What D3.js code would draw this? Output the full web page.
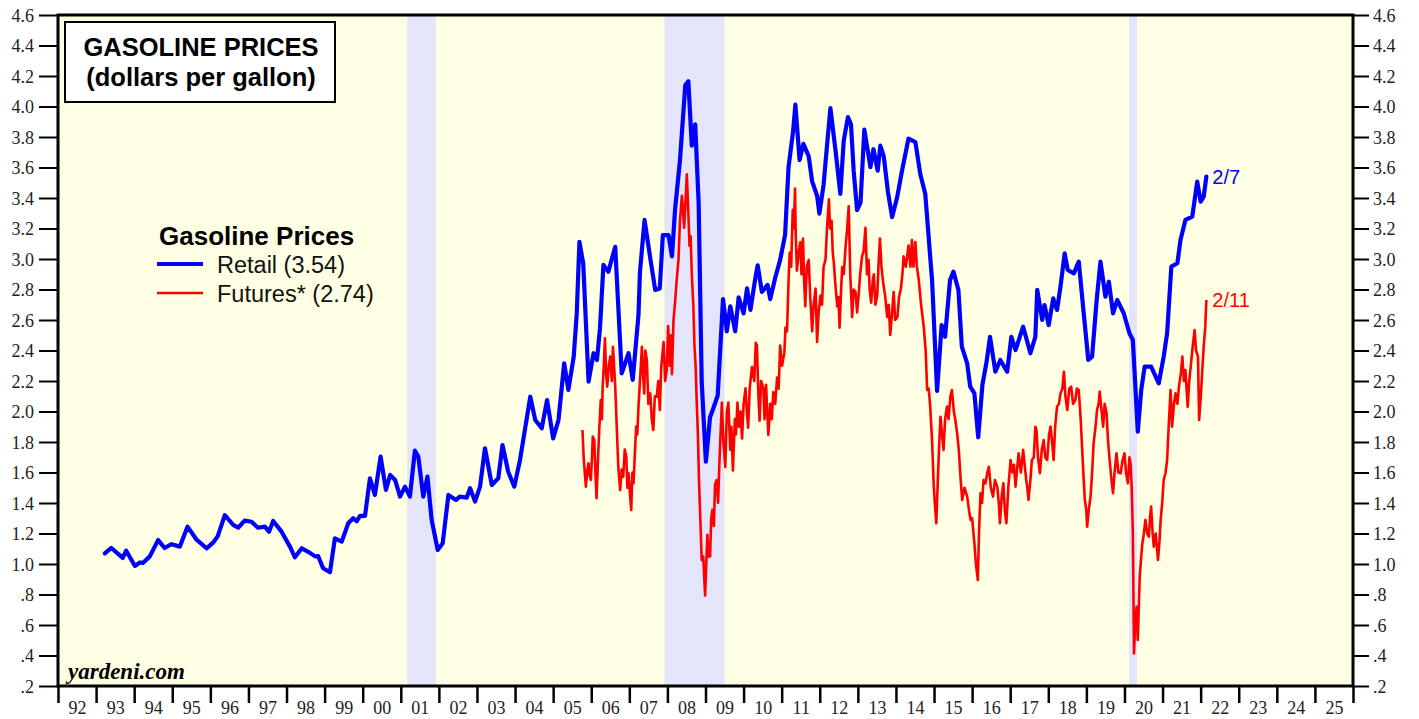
<!DOCTYPE html>
<html>
<head>
<meta charset="utf-8">
<script src="https://cdn.jsdelivr.net/npm/d3@7"></script>
<style>
  body { margin: 0; background: #fff; }
  svg { display: block; }
</style>
</head>
<body>
<div id="chart"></div>
<script>
// retail gasoline, $/gal (decimal year, value)
var retail = [
  [1993.23,1.07],[1993.40,1.105],[1993.70,1.04],[1993.79,1.087],[1994.02,0.987],[1994.15,1.01],[1994.23,1.007],
  [1994.41,1.05],[1994.63,1.157],[1994.80,1.105],[1994.98,1.13],[1995.20,1.114],[1995.40,1.245],[1995.63,1.162],
  [1995.90,1.103],[1996.07,1.14],[1996.19,1.18],[1996.38,1.32],[1996.60,1.256],[1996.73,1.238],[1996.90,1.284],
  [1997.08,1.277],[1997.25,1.238],[1997.43,1.245],[1997.54,1.212],[1997.65,1.282],[1997.87,1.212],[1998.09,1.114],
  [1998.22,1.044],[1998.40,1.103],[1998.57,1.08],[1998.75,1.05],[1998.83,1.052],[1998.96,0.972],[1999.14,0.946],
  [1999.27,1.168],[1999.45,1.147],[1999.62,1.267],[1999.75,1.30],[1999.84,1.28],[1999.93,1.315],[2000.06,1.315],
  [2000.19,1.562],[2000.32,1.453],[2000.47,1.704],[2000.61,1.485],[2000.72,1.584],[2000.85,1.551],[2000.98,1.442],
  [2001.11,1.507],[2001.24,1.442],[2001.37,1.743],[2001.46,1.704],[2001.59,1.442],[2001.70,1.573],[2001.81,1.289],
  [2001.97,1.092],[2002.10,1.136],[2002.25,1.453],[2002.45,1.42],[2002.55,1.442],[2002.73,1.435],[2002.82,1.497],
  [2002.95,1.41],[2003.08,1.507],[2003.21,1.759],[2003.39,1.518],[2003.56,1.562],[2003.67,1.78],[2003.82,1.605],
  [2003.98,1.507],[2004.13,1.682],[2004.40,2.097],[2004.53,1.944],[2004.70,1.89],[2004.84,2.075],[2005.00,1.824],
  [2005.14,1.944],[2005.29,2.316],[2005.40,2.141],[2005.54,2.36],[2005.62,2.644],[2005.69,3.113],[2005.79,2.97],
  [2005.93,2.196],[2006.06,2.382],[2006.15,2.338],[2006.23,2.546],[2006.32,2.961],[2006.45,2.917],[2006.63,3.08],
  [2006.80,2.25],[2006.98,2.382],[2007.09,2.207],[2007.24,2.633],[2007.28,2.917],[2007.40,3.256],[2007.55,3.005],
  [2007.68,2.797],[2007.80,2.807],[2007.88,3.157],[2008.03,3.157],[2008.12,3.017],[2008.20,3.321],[2008.33,3.649],
  [2008.47,4.141],[2008.55,4.165],[2008.64,3.743],[2008.73,3.883],[2008.82,3.369],[2008.90,2.198],[2009.01,1.671],
  [2009.12,1.964],[2009.19,2.01],[2009.32,2.104],[2009.46,2.737],[2009.56,2.526],[2009.65,2.69],[2009.78,2.526],
  [2009.87,2.748],[2010.00,2.643],[2010.09,2.807],[2010.18,2.666],[2010.31,2.877],[2010.37,2.959],[2010.48,2.784],
  [2010.63,2.83],[2010.70,2.737],[2010.83,2.877],[2010.96,2.994],[2011.09,3.158],[2011.18,3.602],[2011.30,3.837],
  [2011.36,4.012],[2011.47,3.649],[2011.57,3.755],[2011.71,3.673],[2011.80,3.509],[2011.93,3.415],[2011.99,3.298],
  [2012.10,3.485],[2012.19,3.743],[2012.28,3.989],[2012.41,3.72],[2012.54,3.427],[2012.63,3.778],[2012.74,3.93],
  [2012.82,3.883],[2012.89,3.579],[2012.98,3.321],[2013.07,3.369],[2013.17,3.849],[2013.33,3.602],[2013.41,3.72],
  [2013.52,3.579],[2013.59,3.743],[2013.68,3.673],[2013.79,3.439],[2013.90,3.275],[2014.03,3.403],[2014.16,3.579],
  [2014.33,3.79],[2014.51,3.767],[2014.64,3.556],[2014.77,3.427],[2014.95,2.854],[2015.08,2.135],[2015.20,2.567],
  [2015.29,2.49],[2015.42,2.862],[2015.51,2.917],[2015.64,2.797],[2015.73,2.425],[2015.87,2.316],[2015.95,2.163],
  [2016.06,2.119],[2016.16,1.831],[2016.27,2.174],[2016.38,2.327],[2016.47,2.49],[2016.61,2.261],[2016.74,2.338],
  [2016.92,2.261],[2017.03,2.49],[2017.14,2.403],[2017.34,2.556],[2017.53,2.382],[2017.66,2.49],[2017.71,2.797],
  [2017.84,2.6],[2017.90,2.698],[2018.01,2.567],[2018.13,2.742],[2018.23,2.666],[2018.32,2.819],[2018.43,3.037],
  [2018.51,2.928],[2018.67,2.906],[2018.80,2.983],[2018.93,2.644],[2019.05,2.338],[2019.15,2.36],[2019.27,2.731],
  [2019.37,2.983],[2019.50,2.753],[2019.59,2.851],[2019.70,2.644],[2019.81,2.731],[2019.98,2.644],[2020.13,2.513],
  [2020.22,2.469],[2020.35,1.868],[2020.44,2.141],[2020.53,2.294],[2020.70,2.294],[2020.90,2.185],[2021.03,2.36],
  [2021.12,2.513],[2021.23,2.95],[2021.39,2.972],[2021.47,3.125],[2021.60,3.256],[2021.78,3.278],[2021.91,3.507],
  [2022.00,3.376],[2022.08,3.409],[2022.15,3.54]
];

// gasoline futures, $/gal
var futures = [
  [2005.77,1.879],[2005.80,1.704],[2005.83,1.60],[2005.86,1.507],[2005.90,1.62],[2005.93,1.66],[2005.96,1.58],[2005.99,1.551],
  [2006.02,1.70],[2006.04,1.835],[2006.08,1.813],[2006.11,1.60],[2006.14,1.431],[2006.18,1.70],[2006.21,1.879],
  [2006.25,2.075],[2006.28,1.95],[2006.30,2.163],[2006.33,2.30],[2006.36,2.48],[2006.39,2.25],[2006.42,2.163],[2006.46,2.30],
  [2006.50,2.36],[2006.54,2.20],[2006.57,2.425],[2006.60,2.30],[2006.63,2.163],[2006.67,1.90],[2006.71,1.638],[2006.76,1.485],
  [2006.80,1.62],[2006.84,1.573],[2006.88,1.75],[2006.92,1.704],[2006.95,1.50],[2006.98,1.595],[2007.02,1.45],
  [2007.05,1.354],[2007.08,1.60],[2007.11,1.529],[2007.15,1.75],[2007.18,1.901],[2007.21,1.85],[2007.24,2.032],
  [2007.28,2.20],[2007.33,2.425],[2007.36,2.25],[2007.39,2.119],[2007.42,2.40],[2007.46,2.338],[2007.50,2.05],
  [2007.55,2.119],[2007.59,1.95],[2007.63,1.879],[2007.67,2.10],[2007.72,2.097],[2007.76,2.20],[2007.80,2.01],
  [2007.84,2.30],[2007.90,2.456],[2007.94,2.20],[2007.98,2.268],[2008.02,2.561],[2008.06,2.30],[2008.09,2.50],
  [2008.12,2.245],[2008.16,2.60],[2008.20,2.713],[2008.24,2.85],[2008.29,2.994],[2008.33,3.25],[2008.38,3.415],
  [2008.44,3.205],[2008.48,3.40],[2008.51,3.556],[2008.55,3.30],[2008.58,3.088],[2008.61,3.15],
  [2008.64,2.9],[2008.68,2.70],[2008.71,2.432],[2008.74,2.30],[2008.77,2.058],[2008.80,1.85],[2008.83,1.542],[2008.87,1.25],
  [2008.90,1.027],[2008.94,1.05],[2008.99,0.793],[2009.02,1.00],[2009.05,1.191],[2009.08,1.05],[2009.12,1.05],
  [2009.15,1.30],[2009.18,1.356],[2009.22,1.25],[2009.25,1.52],[2009.29,1.55],[2009.33,1.402],[2009.37,1.70],
  [2009.43,2.058],[2009.47,1.80],[2009.52,1.636],[2009.56,2.00],[2009.60,2.058],[2009.65,1.75],[2009.68,1.90],
  [2009.72,1.613],[2009.77,1.95],[2009.80,1.85],[2009.84,2.058],[2009.88,1.90],[2009.92,2.00],[2009.96,1.824],
  [2010.00,2.05],[2010.05,2.152],[2010.09,1.98],[2010.12,1.894],[2010.16,2.15],[2010.22,2.292],[2010.28,2.20],
  [2010.32,2.45],[2010.35,2.432],[2010.39,2.10],[2010.42,1.94],[2010.46,2.20],[2010.52,2.152],[2010.55,1.95],
  [2010.59,2.175],[2010.62,2.00],[2010.65,1.847],[2010.70,2.05],[2010.74,1.95],[2010.78,2.128],[2010.83,2.05],
  [2010.88,2.222],[2010.92,2.15],[2010.96,2.432],[2011.01,2.30],[2011.07,2.386],[2011.10,2.55],[2011.14,2.526],
  [2011.18,2.85],[2011.21,3.041],[2011.25,2.95],[2011.29,3.322],[2011.32,3.20],[2011.35,3.462],[2011.37,3.15],
  [2011.40,2.924],[2011.45,3.05],[2011.49,3.111],[2011.52,2.90],[2011.56,3.134],[2011.59,2.85],[2011.62,2.69],
  [2011.66,2.95],[2011.71,2.994],[2011.75,2.75],[2011.80,2.526],[2011.84,2.70],[2011.89,2.807],[2011.93,2.456],
  [2011.97,2.65],[2012.02,2.76],[2012.06,2.70],[2012.10,2.95],[2012.15,2.994],[2012.19,3.20],[2012.24,3.392],
  [2012.27,3.20],[2012.31,3.251],[2012.34,3.05],[2012.37,2.971],[2012.42,2.80],[2012.46,2.69],[2012.49,2.75],
  [2012.52,2.549],[2012.56,2.80],[2012.59,2.947],[2012.63,2.90],[2012.68,3.088],[2012.72,3.20],[2012.76,3.345],
  [2012.80,2.90],[2012.85,2.62],[2012.89,2.80],[2012.94,2.784],[2012.98,2.65],[2013.02,2.76],[2013.06,2.90],
  [2013.11,3.017],[2013.15,3.05],[2013.20,3.205],[2013.24,2.90],[2013.28,2.994],[2013.31,2.80],[2013.35,2.713],
  [2013.39,2.85],[2013.42,2.9],[2013.46,2.70],[2013.51,2.76],[2013.54,2.95],[2013.58,3.134],[2013.62,2.95],
  [2013.66,2.854],[2013.72,2.75],[2013.77,2.62],[2013.81,2.70],[2013.85,2.502],[2013.90,2.65],[2013.94,2.784],
  [2013.98,2.60],[2014.04,2.62],[2014.08,2.75],[2014.13,2.807],[2014.17,2.90],[2014.20,3.017],[2014.26,2.95],
  [2014.33,3.088],[2014.38,2.95],[2014.42,3.125],[2014.46,2.95],[2014.51,3.111],[2014.55,2.95],[2014.60,2.862],
  [2014.66,2.70],[2014.73,2.556],[2014.78,2.40],[2014.82,2.141],[2014.86,2.15],[2014.90,2.032],[2014.95,1.80],
  [2014.99,1.529],[2015.02,1.40],[2015.06,1.267],[2015.10,1.55],[2015.13,1.75],[2015.17,1.966],[2015.21,1.85],
  [2015.25,1.748],[2015.29,1.95],[2015.34,2.032],[2015.38,1.95],[2015.43,2.10],[2015.47,2.141],[2015.52,2.00],
  [2015.56,1.944],[2015.61,1.85],[2015.65,1.748],[2015.70,1.55],[2015.74,1.42],[2015.80,1.50],[2015.87,1.442],
  [2015.92,1.35],[2015.96,1.289],[2016.00,1.30],[2016.06,1.136],[2016.10,1.00],[2016.15,0.895],[2016.18,1.20],
  [2016.22,1.464],[2016.26,1.40],[2016.30,1.55],[2016.35,1.529],[2016.40,1.60],[2016.44,1.638],[2016.49,1.50],
  [2016.55,1.442],[2016.60,1.55],[2016.66,1.507],[2016.70,1.40],[2016.73,1.267],[2016.78,1.45],[2016.82,1.529],
  [2016.86,1.35],[2016.90,1.267],[2016.95,1.50],[2017.01,1.682],[2017.06,1.60],[2017.10,1.65],[2017.14,1.507],
  [2017.18,1.62],[2017.22,1.726],[2017.28,1.60],[2017.34,1.748],[2017.38,1.65],[2017.42,1.551],[2017.45,1.50],
  [2017.48,1.42],[2017.53,1.55],[2017.57,1.682],[2017.62,1.70],[2017.66,1.90],[2017.69,1.879],[2017.73,1.70],
  [2017.78,1.595],[2017.83,1.75],[2017.88,1.813],[2017.92,1.70],[2017.97,1.682],[2018.02,1.85],[2018.06,1.901],
  [2018.10,1.80],[2018.14,1.682],[2018.18,1.90],[2018.23,2.032],[2018.28,2.05],[2018.32,2.119],[2018.37,2.15],
  [2018.41,2.261],[2018.45,2.10],[2018.50,2.01],[2018.55,2.15],[2018.60,2.163],[2018.65,2.05],[2018.71,2.075],
  [2018.75,2.15],[2018.80,2.141],[2018.85,1.95],[2018.89,1.748],[2018.93,1.55],[2018.96,1.42],[2019.00,1.35],
  [2019.02,1.245],[2019.06,1.35],[2019.11,1.442],[2019.15,1.60],[2019.19,1.791],[2019.24,1.90],[2019.28,2.01],
  [2019.32,2.05],[2019.35,2.13],[2019.40,2.00],[2019.44,1.901],[2019.48,2.05],[2019.53,1.988],[2019.57,1.80],
  [2019.61,1.682],[2019.66,1.55],[2019.70,1.464],[2019.74,1.60],[2019.79,1.726],[2019.84,1.60],[2019.90,1.595],
  [2019.95,1.68],[2020.00,1.726],[2020.04,1.60],[2020.09,1.529],[2020.13,1.70],[2020.16,1.66],[2020.19,1.50],
  [2020.22,1.202],[2020.25,0.414],[2020.29,0.65],[2020.32,0.72],[2020.35,0.502],[2020.38,0.75],[2020.40,0.917],
  [2020.44,1.05],[2020.47,1.136],[2020.51,1.20],[2020.55,1.289],[2020.60,1.20],[2020.64,1.18],[2020.67,1.30],
  [2020.70,1.376],[2020.74,1.20],[2020.77,1.114],[2020.82,1.20],[2020.88,1.027],[2020.92,1.15],[2020.95,1.289],
  [2020.99,1.40],[2021.03,1.551],[2021.08,1.60],[2021.12,1.682],[2021.16,1.90],[2021.21,2.141],[2021.25,1.901],
  [2021.30,2.05],[2021.34,2.119],[2021.39,2.05],[2021.43,2.163],[2021.48,2.25],[2021.52,2.36],[2021.56,2.20],
  [2021.60,2.272],[2021.63,2.15],[2021.66,2.032],[2021.70,2.20],[2021.73,2.272],[2021.78,2.40],[2021.84,2.534],
  [2021.88,2.40],[2021.93,2.36],[2021.96,1.944],[2021.99,2.05],[2022.02,2.163],[2022.05,2.30],[2022.08,2.425],
  [2022.12,2.55],[2022.15,2.731]
];

// recessions (start, end)
var recessions = [[2001.17, 2001.92], [2007.92, 2009.5], [2020.12, 2020.33]];

var yTicks = [0.2,0.4,0.6,0.8,1.0,1.2,1.4,1.6,1.8,2.0,2.2,2.4,2.6,2.8,3.0,3.2,3.4,3.6,3.8,4.0,4.2,4.4,4.6];
var yearTicks = d3.range(1992, 2027);
var yearLabels = ["92","93","94","95","96","97","98","99","00","01","02","03","04","05","06","07","08","09",
  "10","11","12","13","14","15","16","17","18","19","20","21","22","23","24","25"];

var W = 1419, H = 719;
var L = 58, R = 1353, T = 15, B = 686;
var SERIF = '"Liberation Serif", "Times New Roman", Times, serif';
var SANS = '"Liberation Sans", Arial, Helvetica, sans-serif';

var svg = d3.select('#chart').append('svg').attr('width', W).attr('height', H);

var x = d3.scaleLinear().domain([1992, 2026]).range([L, R]);
var y = d3.scaleLinear().domain([0.2, 4.6]).range([B, T]);

svg.append('rect').attr('x', L).attr('y', T).attr('width', R - L).attr('height', B - T).attr('fill', '#ffffe3');

svg.selectAll('.rec').data(recessions).enter().append('rect')
  .attr('x', function(d) { return x(d[0]); })
  .attr('width', function(d) { return x(d[1]) - x(d[0]); })
  .attr('y', T).attr('height', B - T)
  .attr('fill', '#e4e4fb');

var fmt = function(v) { return v >= 1 ? v.toFixed(1) : '.' + Math.round(v * 10); };

var yl = svg.append('g').attr('transform', 'translate(' + L + ',0)')
  .call(d3.axisLeft(y).tickValues(yTicks).tickFormat(fmt).tickSize(19).tickPadding(5));
var yr = svg.append('g').attr('transform', 'translate(' + R + ',0)')
  .call(d3.axisRight(y).tickValues(yTicks).tickFormat(fmt).tickSize(16).tickPadding(4));
[yl, yr].forEach(function(g) {
  g.select('.domain').remove();
  g.selectAll('line').attr('stroke', '#000').attr('stroke-width', 2);
  g.selectAll('text').attr('dy', '0.34em')
    .style('font-family', SERIF).style('font-size', '18px').style('fill', '#222');
});

var xt = svg.append('g').attr('transform', 'translate(0,' + B + ')')
  .call(d3.axisBottom(x).tickValues(yearTicks).tickFormat('').tickSize(17));
xt.select('.domain').remove();
xt.selectAll('line').attr('stroke', '#000').attr('stroke-width', 2.5);

var xl = svg.append('g').attr('transform', 'translate(0,' + B + ')')
  .call(d3.axisBottom(x).tickValues(yearLabels.map(function(s, i) { return 1992.5 + i; }))
    .tickFormat(function(d, i) { return yearLabels[i]; }).tickSize(0).tickPadding(15));
xl.select('.domain').remove();
xl.selectAll('text').style('font-family', SERIF).style('font-size', '18px').style('fill', '#222');

var line = d3.line().x(function(d) { return x(d[0]); }).y(function(d) { return y(d[1]); });

svg.append('path').datum(futures).attr('d', line)
  .attr('fill', 'none').attr('stroke', '#ff0000').attr('stroke-width', 2.6).attr('stroke-linejoin', 'round');
svg.append('path').datum(retail).attr('d', line)
  .attr('fill', 'none').attr('stroke', '#0000ff').attr('stroke-width', 4.2).attr('stroke-linejoin', 'round')
  .attr('stroke-linecap', 'round');

// frame
svg.append('rect').attr('x', L).attr('y', T).attr('width', R - L).attr('height', B - T)
  .attr('fill', 'none').attr('stroke', '#000').attr('stroke-width', 3);

// title box
svg.append('rect').attr('x', 65).attr('y', 22).attr('width', 270).attr('height', 80)
  .attr('fill', '#fff').attr('stroke', '#000').attr('stroke-width', 2);
['GASOLINE PRICES', '(dollars per gallon)'].forEach(function(t, i) {
  svg.append('text').attr('x', 201).attr('y', 56 + i * 30).attr('text-anchor', 'middle')
    .style('font-family', SANS).style('font-size', '25.5px').style('font-weight', 'bold').text(t);
});

// legend
svg.append('text').attr('x', 159).attr('y', 245)
  .style('font-family', SANS).style('font-size', '26px').style('font-weight', 'bold').text('Gasoline Prices');
var leg = [
  { label: 'Retail (3.54)', color: '#0000ff', w: 4, yy: 264 },
  { label: 'Futures* (2.74)', color: '#ff0000', w: 2.5, yy: 293 }
];
leg.forEach(function(d) {
  svg.append('line').attr('x1', 157).attr('x2', 203).attr('y1', d.yy).attr('y2', d.yy)
    .attr('stroke', d.color).attr('stroke-width', d.w);
  svg.append('text').attr('x', 217).attr('y', d.yy + 9)
    .style('font-family', SANS).style('font-size', '23.5px').style('fill', '#111').text(d.label);
});

// end labels
var lastR = retail[retail.length - 1], lastF = futures[futures.length - 1];
svg.append('text').attr('x', x(lastR[0]) + 6).attr('y', y(lastR[1]) + 7)
  .style('font-family', SANS).style('font-size', '20px').style('fill', '#0000ff').text('2/7');
svg.append('text').attr('x', x(lastF[0]) + 6).attr('y', y(lastF[1]) + 7)
  .style('font-family', SANS).style('font-size', '20px').style('fill', '#ff0000').text('2/11');

svg.append('text').attr('x', 68).attr('y', 679)
  .style('font-family', SERIF).style('font-size', '23px').style('font-weight', 'bold')
  .style('font-style', 'italic').text('yardeni.com');
</script>
</body>
</html>
